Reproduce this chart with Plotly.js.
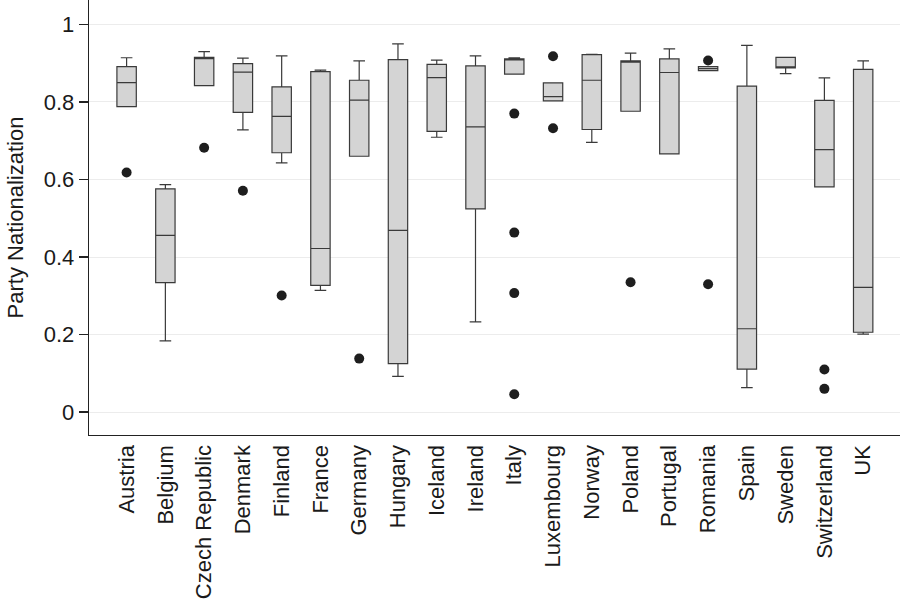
<!DOCTYPE html>
<html>
<head>
<meta charset="utf-8">
<script src="https://cdn.plot.ly/plotly-3.0.1.min.js"></script>
<style>html,body{margin:0;padding:0;background:#fff;}#chart{width:902px;height:600px;}</style>
</head>
<body>
<div id="chart"></div>
<script>
const countries = ["Austria","Belgium","Czech Republic","Denmark","Finland","France","Germany","Hungary","Iceland","Ireland","Italy","Luxembourg","Norway","Poland","Portugal","Romania","Spain","Sweden","Switzerland","UK"];
const lowerWhisker = [0.788,0.184,0.842,0.728,0.643,0.314,0.660,0.092,0.709,0.233,0.872,0.803,0.696,0.776,0.666,0.881,0.063,0.873,0.581,0.201];
const q1Values     = [0.788,0.334,0.842,0.773,0.669,0.327,0.660,0.125,0.724,0.524,0.872,0.803,0.729,0.776,0.666,0.881,0.111,0.888,0.581,0.206];
const medianValues = [0.850,0.456,0.912,0.877,0.763,0.422,0.805,0.469,0.863,0.736,0.909,0.814,0.856,0.903,0.876,0.886,0.215,0.890,0.677,0.322];
const q3Values     = [0.891,0.576,0.915,0.899,0.839,0.878,0.856,0.909,0.897,0.893,0.911,0.849,0.922,0.906,0.911,0.891,0.841,0.915,0.804,0.884];
const upperWhisker = [0.914,0.587,0.930,0.913,0.919,0.882,0.906,0.950,0.908,0.919,0.914,0.849,0.923,0.926,0.937,0.891,0.946,0.915,0.862,0.906];
const outlierCountry = ["Austria","Czech Republic","Denmark","Finland","Germany","Italy","Italy","Italy","Italy","Luxembourg","Luxembourg","Poland","Romania","Romania","Switzerland","Switzerland"];
const outlierValue   = [0.618,0.682,0.571,0.301,0.138,0.770,0.463,0.307,0.046,0.918,0.732,0.335,0.907,0.330,0.110,0.060];
const yTicks = [0,0.2,0.4,0.6,0.8,1];
const yTickText = ["0","0.2","0.4","0.6","0.8","1"];

const boxTrace = {
  type: "box",
  x: countries,
  q1: q1Values,
  median: medianValues,
  q3: q3Values,
  lowerfence: lowerWhisker,
  upperfence: upperWhisker,
  width: 0.5,
  whiskerwidth: 0.6,
  fillcolor: "#d4d4d4",
  line: {color: "#3a3a3a", width: 1.2},
  boxpoints: false,
  hoverinfo: "skip",
  showlegend: false
};
const outlierTrace = {
  type: "scatter",
  mode: "markers",
  x: outlierCountry,
  y: outlierValue,
  marker: {color: "#1e1e1e", size: 10},
  hoverinfo: "skip",
  showlegend: false
};
const layout = {
  width: 902, height: 600,
  margin: {l: 89, r: 2, t: 0, b: 165},
  paper_bgcolor: "#fff", plot_bgcolor: "#fff",
  font: {family: "Liberation Sans, Arial, sans-serif", size: 22, color: "#1a1a1a"},
  xaxis: {
    type: "category",
    categoryorder: "array",
    categoryarray: countries,
    range: [-0.97, 19.95],
    tickangle: -90,
    showgrid: false,
    zeroline: false,
    showline: true,
    linecolor: "#222",
    linewidth: 1.3,
    ticks: "",
    ticklabelstandoff: 0,
    tickfont: {size: 22}
  },
  yaxis: {
    range: [-0.059, 1.063],
    tickvals: yTicks,
    ticktext: yTickText,
    showgrid: true,
    gridcolor: "#ececec",
    gridwidth: 1,
    zeroline: false,
    showline: true,
    linecolor: "#222",
    linewidth: 1.3,
    ticks: "outside",
    ticklen: 9,
    tickcolor: "#222",
    tickwidth: 1.3,
    ticklabelstandoff: 0,
    tickfont: {size: 22},
    title: {text: "Party Nationalization", font: {size: 22}, standoff: 14}
  }
};
Plotly.newPlot("chart", [boxTrace, outlierTrace], layout, {displayModeBar: false, staticPlot: true});
</script>
</body>
</html>
